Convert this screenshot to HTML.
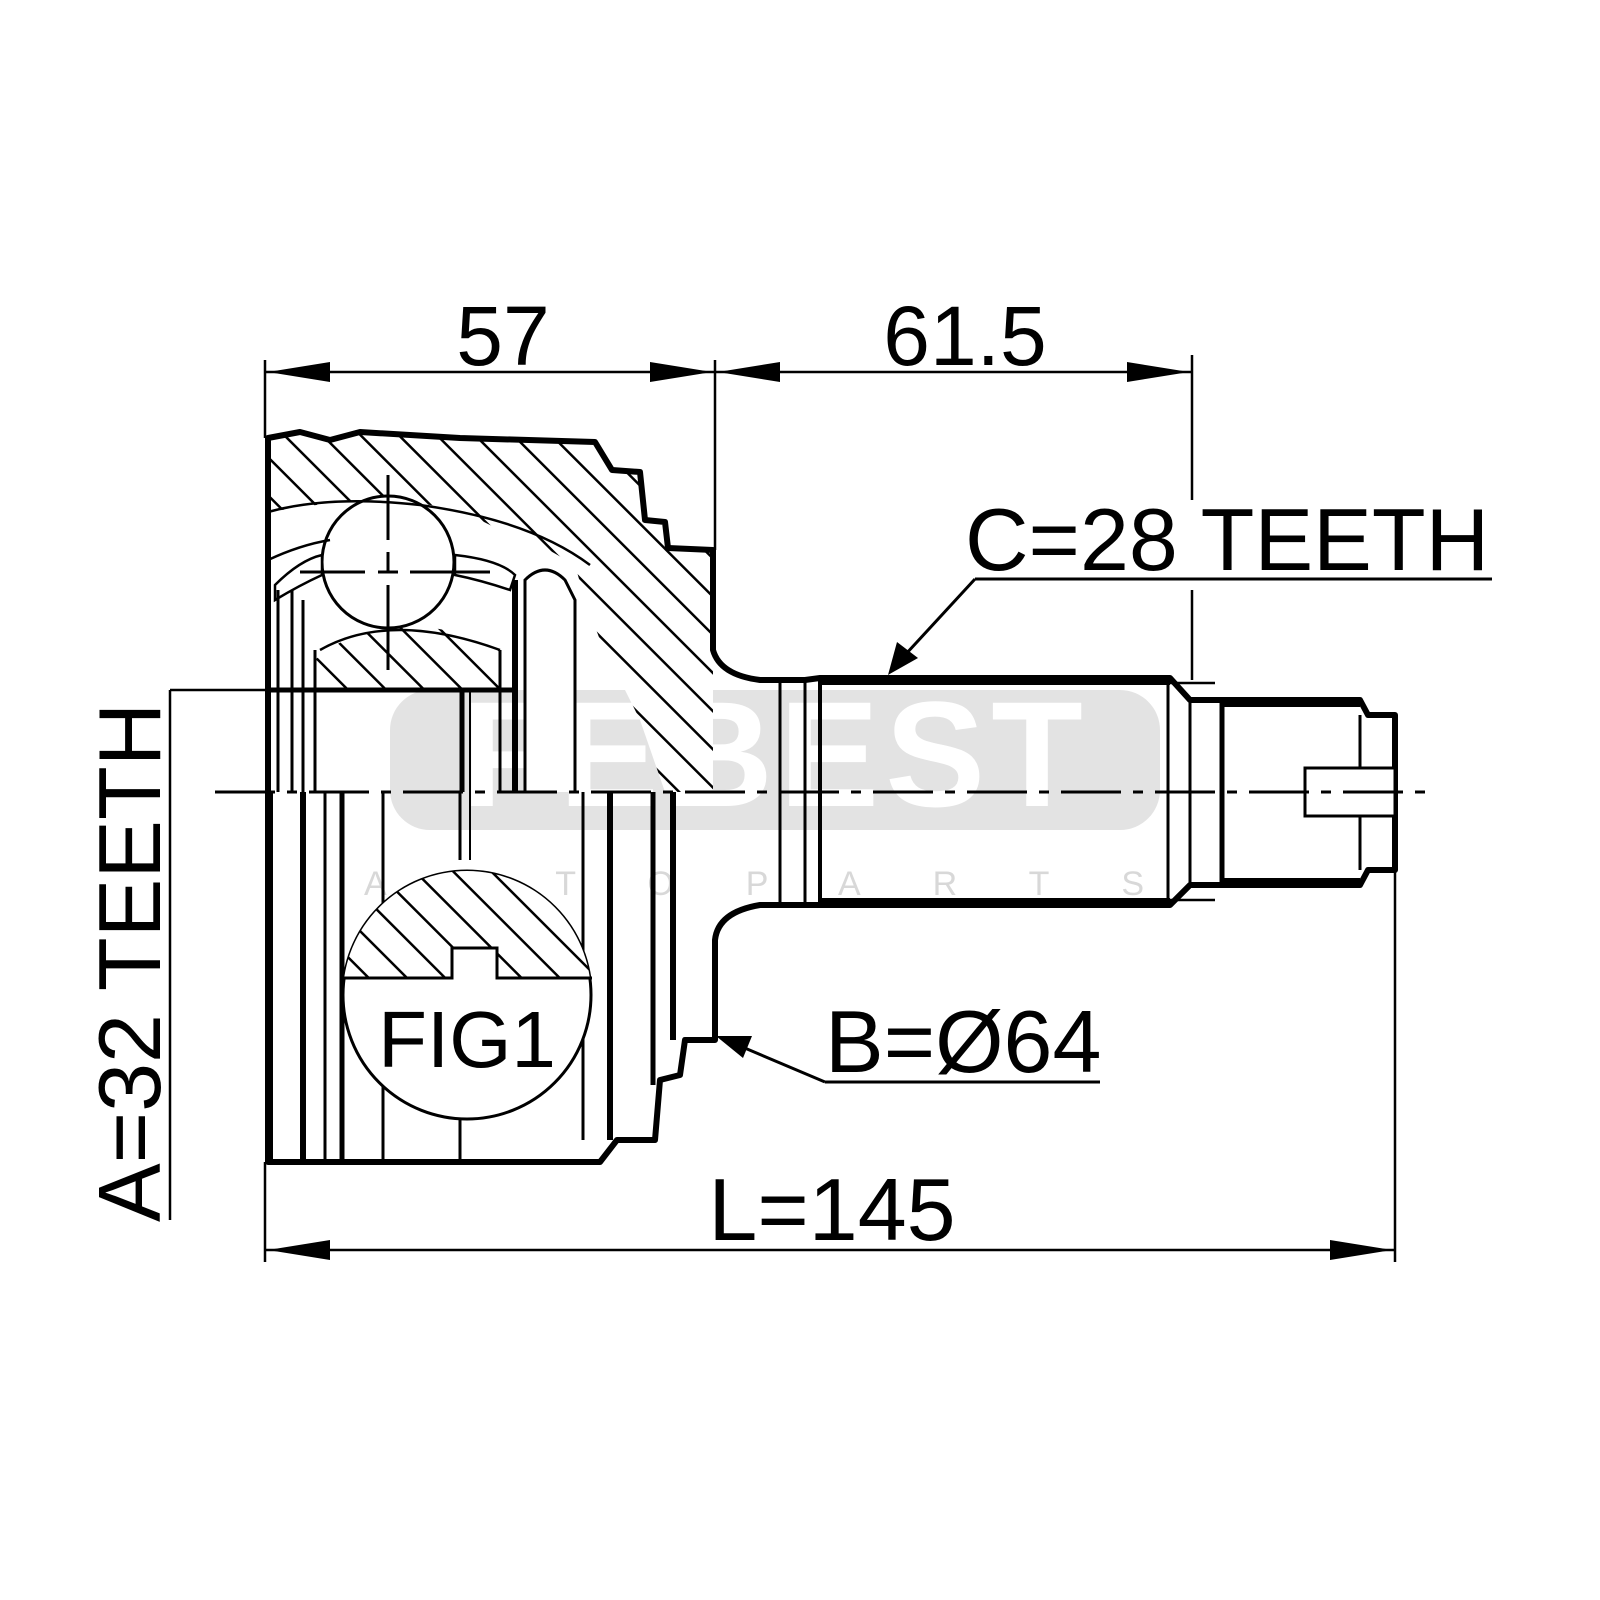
<!DOCTYPE html>
<html><head><meta charset="utf-8"><style>
html,body{margin:0;padding:0;background:#fff;}
svg{display:block;}
text{font-family:"Liberation Sans",Arial,sans-serif;}
</style></head><body>
<svg width="1600" height="1600" viewBox="0 0 1600 1600" xmlns="http://www.w3.org/2000/svg">
<defs>
<pattern id="h" patternUnits="userSpaceOnUse" width="27" height="27" patternTransform="rotate(-45)">
<rect width="27" height="27" fill="#fff"/>
<line x1="0" y1="0" x2="0" y2="27" stroke="#000" stroke-width="5"/>
</pattern>
<clipPath id="fc"><circle cx="467" cy="995" r="124"/></clipPath>
</defs>

<!-- watermark -->
<rect x="390" y="690" width="770" height="140" rx="40" fill="#e3e3e3"/>
<text x="775" y="806" font-size="150" font-weight="bold" fill="#fff" text-anchor="middle" letter-spacing="6">FEBEST</text>
<text x="790" y="895" font-size="34" fill="#d8d8d8" text-anchor="middle" letter-spacing="72">AUTOPARTS</text>

<!-- hatched outer race section -->
<path d="M268,438 L300,432 L330,440 L360,432 L460,438 L595,442 L612,470 L640,472 L645,520 L665,522 L668,548 L713,550 L713,792 L665,792 L640,720 L600,640 L585,600 L575,565 L540,545 L500,530 L460,510 L400,500 L330,503 L268,512 Z" fill="url(#h)"/>
<!-- hatched inner race -->
<path d="M315,690 L500,690 L500,650 Q440,620 388,628 Q340,636 315,660 Z" fill="url(#h)"/>
<!-- ball -->
<circle cx="388" cy="562" r="66" fill="#fff" stroke="#000" stroke-width="3"/>
<path d="M275,585 Q300,560 322,555 L322,575 Q300,585 275,600 Z" fill="#fff" stroke="#000" stroke-width="2.5"/>
<path d="M455,555 Q500,560 515,575 L510,590 Q480,580 455,575 Z" fill="#fff" stroke="#000" stroke-width="2.5"/>
<path d="M268,512 Q330,495 420,505 Q530,520 590,565" fill="none" stroke="#000" stroke-width="2.5"/>
<path d="M268,560 Q300,545 330,540" fill="none" stroke="#000" stroke-width="2.5"/>
<path d="M320,650 Q390,610 500,650" fill="none" stroke="#000" stroke-width="2.5"/>
<g stroke="#000" stroke-width="3">
<line x1="388" y1="475" x2="388" y2="540"/><line x1="388" y1="552" x2="388" y2="572"/><line x1="388" y1="585" x2="388" y2="670"/>
<line x1="300" y1="572" x2="365" y2="572"/><line x1="378" y1="572" x2="398" y2="572"/><line x1="410" y1="572" x2="490" y2="572"/>
</g>
<path d="M525,792 L525,580 Q545,560 565,580 L575,600 L575,792" fill="#fff" stroke="#000" stroke-width="3"/>

<!-- outer body outline -->
<path d="M268,438 L300,432 L330,440 L360,432 L460,438 L595,442 L612,470 L640,472 L645,520 L665,522 L668,548 L713,550 L713,650 Q720,675 760,680 L805,680 L820,678 L1170,678 L1190,700 L1222,700 L1360,700 L1368,715 L1395,715 L1395,870 L1368,870 L1360,885 L1222,885 L1190,885 L1170,905 L820,905 L805,905 L760,905 Q718,912 715,940 L715,1040 L685,1040 L680,1075 L660,1080 L655,1140 L617,1140 L600,1162 L268,1162 Z" fill="none" stroke="#000" stroke-width="6" stroke-linejoin="round"/>

<g stroke="#000" stroke-width="3" fill="none">
<line x1="278" y1="590" x2="278" y2="792"/>
<line x1="292" y1="590" x2="292" y2="792"/>
<line x1="303" y1="600" x2="303" y2="792"/>
<line x1="315" y1="650" x2="315" y2="792"/>
<line x1="500" y1="650" x2="500" y2="792"/>
<line x1="515" y1="580" x2="515" y2="792" stroke-width="6"/>
<line x1="268" y1="690" x2="515" y2="690" stroke-width="5"/>
<line x1="462" y1="690" x2="462" y2="792" stroke-width="5"/>
<line x1="470" y1="690" x2="470" y2="860" stroke-width="2"/>
<line x1="270" y1="792" x2="270" y2="1162" stroke-width="6"/>
<line x1="303" y1="792" x2="303" y2="1162" stroke-width="6"/>
<line x1="325" y1="792" x2="325" y2="1162"/>
<line x1="342" y1="792" x2="342" y2="1162" stroke-width="5"/>
<line x1="383" y1="792" x2="383" y2="1162"/>
<line x1="460" y1="792" x2="460" y2="860"/>
<line x1="460" y1="1120" x2="460" y2="1162"/>
<line x1="583" y1="792" x2="583" y2="1140"/>
<line x1="610" y1="792" x2="610" y2="1140" stroke-width="6"/>
<line x1="653" y1="792" x2="653" y2="1085" stroke-width="5"/>
<line x1="673" y1="792" x2="673" y2="1040" stroke-width="6"/>
<line x1="780" y1="680" x2="780" y2="905"/>
<line x1="805" y1="680" x2="805" y2="905"/>
<line x1="820" y1="680" x2="820" y2="905" stroke-width="4"/>
<line x1="1168" y1="680" x2="1168" y2="905"/>
<line x1="1222" y1="700" x2="1222" y2="885" stroke-width="5"/>
<line x1="1190" y1="700" x2="1190" y2="885"/>
<line x1="1360" y1="715" x2="1360" y2="870"/>
<rect x="1305" y="768" width="90" height="48" fill="#fff"/>
</g>
<line x1="820" y1="680" x2="1170" y2="680" stroke="#000" stroke-width="10"/>
<line x1="820" y1="903" x2="1170" y2="903" stroke="#000" stroke-width="10"/>
<line x1="1222" y1="703" x2="1360" y2="703" stroke="#000" stroke-width="8"/>
<line x1="1222" y1="882" x2="1360" y2="882" stroke="#000" stroke-width="8"/>

<!-- FIG1 -->
<circle cx="467" cy="995" r="124" fill="#fff" stroke="#000" stroke-width="3"/>
<g clip-path="url(#fc)">
<path d="M340,978 L452,978 L452,948 L497,948 L497,978 L600,978 L600,860 L340,860 Z" fill="url(#h)"/>
</g>
<path d="M343,978 L452,978 L452,948 L497,948 L497,978 L592,978" fill="none" stroke="#000" stroke-width="3"/>
<text x="467" y="1067" font-size="80" text-anchor="middle">FIG1</text>

<line x1="215" y1="792" x2="1430" y2="792" stroke="#000" stroke-width="3" stroke-dasharray="60,12,10,12"/>

<g stroke="#000" stroke-width="2.5">
<line x1="265" y1="360" x2="265" y2="438"/>
<line x1="715" y1="360" x2="715" y2="550"/>
<line x1="1192" y1="355" x2="1192" y2="500"/>
<line x1="1192" y1="590" x2="1192" y2="680"/>
<line x1="265" y1="372" x2="1192" y2="372"/>
<line x1="1170" y1="683" x2="1215" y2="683"/>
<line x1="1170" y1="900" x2="1215" y2="900"/>
</g>
<g fill="#000">
<polygon points="268,372 330,362 330,382"/>
<polygon points="712,372 650,362 650,382"/>
<polygon points="718,372 780,362 780,382"/>
<polygon points="1189,372 1127,362 1127,382"/>
</g>
<text x="503" y="365" font-size="84" text-anchor="middle">57</text>
<text x="965" y="365" font-size="84" text-anchor="middle">61.5</text>

<text x="965" y="570" font-size="88">C=28 TEETH</text>
<line x1="975" y1="579" x2="1492" y2="579" stroke="#000" stroke-width="3"/>
<line x1="975" y1="579" x2="905" y2="655" stroke="#000" stroke-width="3"/>
<polygon points="888,675 897,642 918,658" fill="#000"/>

<text x="825" y="1072" font-size="88">B=Ø64</text>
<line x1="825" y1="1082" x2="1100" y2="1082" stroke="#000" stroke-width="3"/>
<line x1="825" y1="1082" x2="740" y2="1046" stroke="#000" stroke-width="3"/>
<polygon points="716,1036 752,1036 743,1058" fill="#000"/>

<g stroke="#000" stroke-width="2.5">
<line x1="265" y1="1162" x2="265" y2="1262"/>
<line x1="1395" y1="872" x2="1395" y2="1262"/>
<line x1="265" y1="1250" x2="1395" y2="1250"/>
</g>
<polygon points="268,1250 330,1240 330,1260" fill="#000"/>
<polygon points="1392,1250 1330,1240 1330,1260" fill="#000"/>
<text x="832" y="1240" font-size="88" text-anchor="middle">L=145</text>

<g stroke="#000" stroke-width="2.5">
<line x1="170" y1="690" x2="170" y2="1220"/>
<line x1="170" y1="690" x2="300" y2="690"/>
</g>
<text transform="translate(160,1222) rotate(-90)" font-size="88">A=32 TEETH</text>
</svg>
</body></html>
